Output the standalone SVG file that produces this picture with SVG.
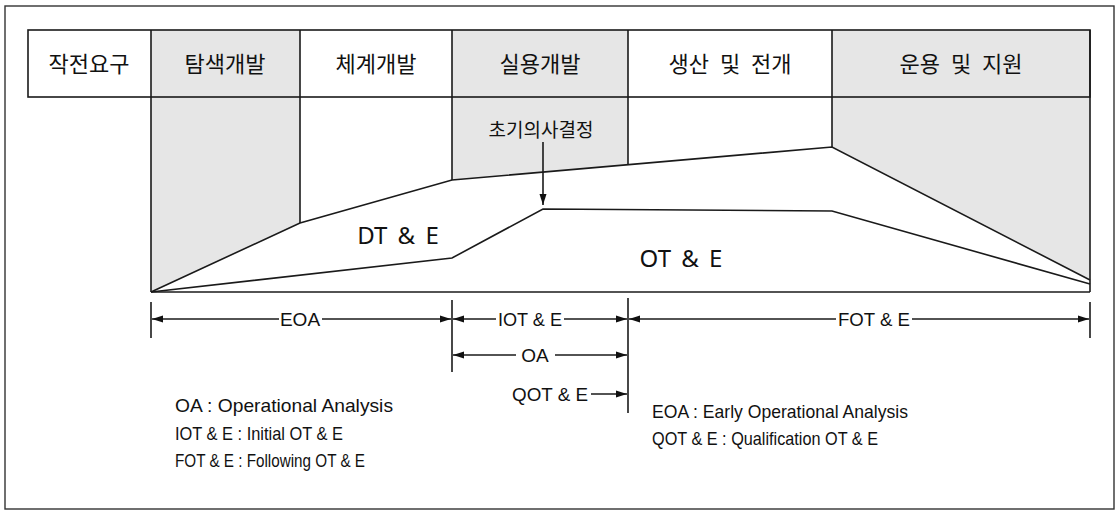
<svg xmlns="http://www.w3.org/2000/svg" width="1119" height="515" viewBox="0 0 1119 515">
<style>
.ln{stroke:#1a1a1a;stroke-width:1.6;fill:none}
.gr{fill:#e6e6e6;stroke:none}
.kr{font-family:"Noto Sans CJK KR","Noto Sans",sans-serif;font-size:22px;fill:#111;text-anchor:middle;dominant-baseline:central}
.lb{font-family:"Liberation Sans","Noto Sans",sans-serif;font-size:19px;fill:#111;text-anchor:middle}
.big{font-family:"Noto Sans","Liberation Sans",sans-serif;font-size:24px;fill:#111;text-anchor:middle;word-spacing:4px}
.lg{font-family:"Liberation Sans","Noto Sans",sans-serif;font-size:19px;fill:#111}
</style>
<defs>
<marker id="ah" markerUnits="userSpaceOnUse" markerWidth="12" markerHeight="8" refX="11" refY="4" orient="auto-start-reverse">
<path d="M0,0.5 L11,4 L0,7.5 Z" fill="#111"/>
</marker>
</defs>
<rect x="5" y="6" width="1109" height="503" fill="#fff" stroke="#333" stroke-width="1.4"/>
<g id="shading">
<polygon class="gr" points="151,30 300,30 300,223 151,292"/>
<polygon class="gr" points="452,30 628,30 628,165 452,180"/>
<polygon class="gr" points="832,30 1090,30 1090,280 832,147"/>
</g>
<g id="header">
<rect x="28" y="30" width="1062" height="67" class="ln"/>
<g id="h1"><text class="kr" x="89" y="62">작전요구</text></g>
<g id="h2"><text class="kr" x="225" y="62">탐색개발</text></g>
<g id="h3"><text class="kr" x="376" y="62">체계개발</text></g>
<g id="h4"><text class="kr" x="540" y="62">실용개발</text></g>
<g id="h5"><text class="kr" x="730" y="62" style="word-spacing:6px">생산 및 전개</text></g>
<g id="h6"><text class="kr" x="961" y="62" style="word-spacing:6px">운용 및 지원</text></g>
</g>
<g id="connectors">
<line class="ln" x1="151" y1="30" x2="151" y2="292"/>
<line class="ln" x1="300" y1="30" x2="300" y2="223"/>
<line class="ln" x1="452" y1="30" x2="452" y2="180"/>
<line class="ln" x1="628" y1="30" x2="628" y2="165"/>
<line class="ln" x1="832" y1="30" x2="832" y2="147"/>
<line class="ln" x1="1090" y1="30" x2="1090" y2="292"/>
<line class="ln" x1="151" y1="292" x2="1090" y2="292"/>
<polyline class="ln" points="151,292 300,223 452,180 832,147 1090,280"/>
<polyline class="ln" points="151,292 452,258 543,209 832,211 1090,284"/>
<line class="ln" x1="543" y1="142" x2="543" y2="205" marker-end="url(#ah)"/>
<line class="ln" x1="151" y1="302" x2="151" y2="338"/>
<line class="ln" x1="452" y1="300" x2="452" y2="372"/>
<line class="ln" x1="628" y1="298" x2="628" y2="413"/>
<line class="ln" x1="1090" y1="302" x2="1090" y2="338"/>
<line class="ln" x1="152" y1="319" x2="279" y2="319" marker-start="url(#ah)"/>
<line class="ln" x1="322" y1="319" x2="451" y2="319" marker-end="url(#ah)"/>
<line class="ln" x1="453" y1="319" x2="496" y2="319" marker-start="url(#ah)"/>
<line class="ln" x1="564" y1="319" x2="627" y2="319" marker-end="url(#ah)"/>
<line class="ln" x1="629" y1="319" x2="836" y2="319" marker-start="url(#ah)"/>
<line class="ln" x1="912" y1="319" x2="1089" y2="319" marker-end="url(#ah)"/>
<line class="ln" x1="453" y1="355" x2="516" y2="355" marker-start="url(#ah)"/>
<line class="ln" x1="555" y1="355" x2="627" y2="355" marker-end="url(#ah)"/>
<line class="ln" x1="591" y1="394" x2="627" y2="394" marker-end="url(#ah)"/>
</g>
<g id="decision"><text class="kr" x="541" y="128" style="font-size:19px">초기의사결정</text></g>
<g id="dte"><text class="big" x="398" y="244">DT &amp; E</text></g>
<g id="ote"><text class="big" x="681" y="267">OT &amp; E</text></g>
<g id="labels">
<text class="lb" x="300" y="326">EOA</text>
<text class="lb" x="530" y="326" textLength="64" lengthAdjust="spacingAndGlyphs">IOT &amp; E</text>
<text class="lb" x="535" y="362">OA</text>
<text class="lb" x="550" y="401" textLength="76" lengthAdjust="spacingAndGlyphs">QOT &amp; E</text>
<text class="lb" x="874" y="326" textLength="72" lengthAdjust="spacingAndGlyphs">FOT &amp; E</text>
</g>
<g id="legend">
<text class="lg" x="175" y="412" textLength="218" lengthAdjust="spacingAndGlyphs">OA : Operational Analysis</text>
<text class="lg" x="175" y="440" textLength="168" lengthAdjust="spacingAndGlyphs">IOT &amp; E : Initial OT &amp; E</text>
<text class="lg" x="175" y="467" textLength="190" lengthAdjust="spacingAndGlyphs">FOT &amp; E : Following OT &amp; E</text>
<text class="lg" x="652" y="418" textLength="256" lengthAdjust="spacingAndGlyphs">EOA : Early Operational Analysis</text>
<text class="lg" x="652" y="445" textLength="226" lengthAdjust="spacingAndGlyphs">QOT &amp; E : Qualification OT &amp; E</text>
</g>
</svg>
